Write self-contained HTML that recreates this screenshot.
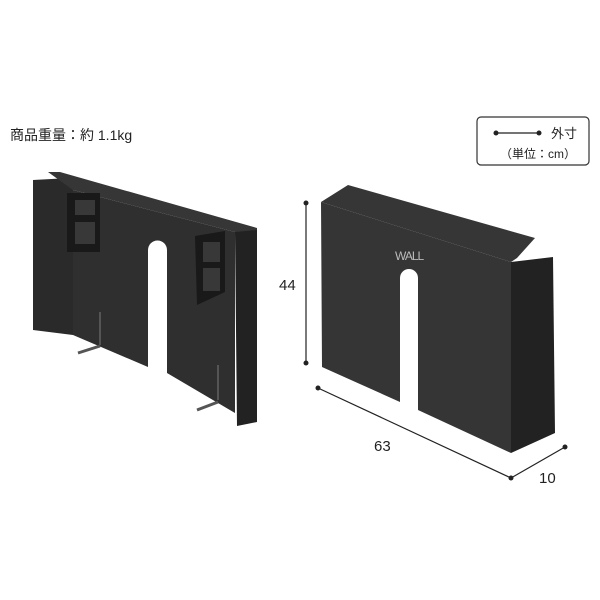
<!DOCTYPE html>
<html><head><meta charset="utf-8"><style>
html,body{margin:0;padding:0;background:#fff;}
svg{display:block}
text{font-family:"Liberation Sans","Noto Sans CJK JP",sans-serif;fill:#222}
</style></head><body>
<svg width="600" height="600" viewBox="0 0 600 600" xmlns="http://www.w3.org/2000/svg">
<text x="10" y="140" font-size="14">商品重量：約 1.1kg</text>
<rect x="477" y="117" width="112" height="48" rx="4" fill="#fff" stroke="#333" stroke-width="1.2"/>
<line x1="496" y1="133" x2="539" y2="133" stroke="#222" stroke-width="1.2"/>
<circle cx="496" cy="133" r="2.5" fill="#222"/><circle cx="539" cy="133" r="2.5" fill="#222"/>
<text x="551" y="138" font-size="13">外寸</text>
<text x="500" y="158" font-size="12">（単位：cm）</text>

<!-- left object -->
<polygon points="33,180 70,178 73,190 73,335 33,330" fill="#2a2a2a"/>
<polygon points="48,172 60,172 257,228 257,236 235,232 73,190" fill="#363636"/>
<path d="M73,190 L235,232 L235,413 L167,373 L167,250 A9.5,9.5 0 0 0 148,250 L148,367 L73,335 Z" fill="#2f2f2f"/>
<polygon points="235,232 257,230 257,422 237,426" fill="#222"/>
<rect x="67" y="193" width="33" height="59" fill="#191919"/>
<rect x="75" y="200" width="20" height="15" fill="#383838"/><rect x="75" y="222" width="20" height="22" fill="#383838"/>
<polygon points="195,236 225,231 225,292 197,305" fill="#191919"/>
<rect x="203" y="242" width="17" height="20" fill="#383838"/><rect x="203" y="268" width="17" height="23" fill="#383838"/>
<line x1="100" y1="312" x2="100" y2="345" stroke="#555" stroke-width="2"/>
<line x1="78" y1="353" x2="100" y2="346" stroke="#555" stroke-width="3"/>
<line x1="218" y1="365" x2="218" y2="400" stroke="#555" stroke-width="2"/>
<line x1="197" y1="410" x2="218" y2="402" stroke="#555" stroke-width="3"/>

<!-- right object -->
<polygon points="321,202 348,185 535,238 517,258 511,262" fill="#363636"/>
<path d="M321,202 L511,262 L511,453 L418,410 L418,278 A9,9 0 0 0 400,278 L400,402 L322,367 Z" fill="#353535"/>
<polygon points="511,262 553,257 555,433 511,453" fill="#222"/>
<text x="395" y="260" font-size="12" style="fill:#bbb" letter-spacing="-1">WALL</text>

<!-- dimensions -->
<line x1="306" y1="203" x2="306" y2="363" stroke="#222" stroke-width="1.2"/>
<circle cx="306" cy="203" r="2.5" fill="#222"/><circle cx="306" cy="363" r="2.5" fill="#222"/>
<text x="279" y="290" font-size="15">44</text>
<line x1="318" y1="388" x2="511" y2="478" stroke="#222" stroke-width="1.2"/>
<line x1="511" y1="478" x2="565" y2="447" stroke="#222" stroke-width="1.2"/>
<circle cx="318" cy="388" r="2.5" fill="#222"/><circle cx="511" cy="478" r="2.5" fill="#222"/><circle cx="565" cy="447" r="2.5" fill="#222"/>
<text x="374" y="451" font-size="15">63</text>
<text x="539" y="483" font-size="15">10</text>
</svg>
</body></html>
